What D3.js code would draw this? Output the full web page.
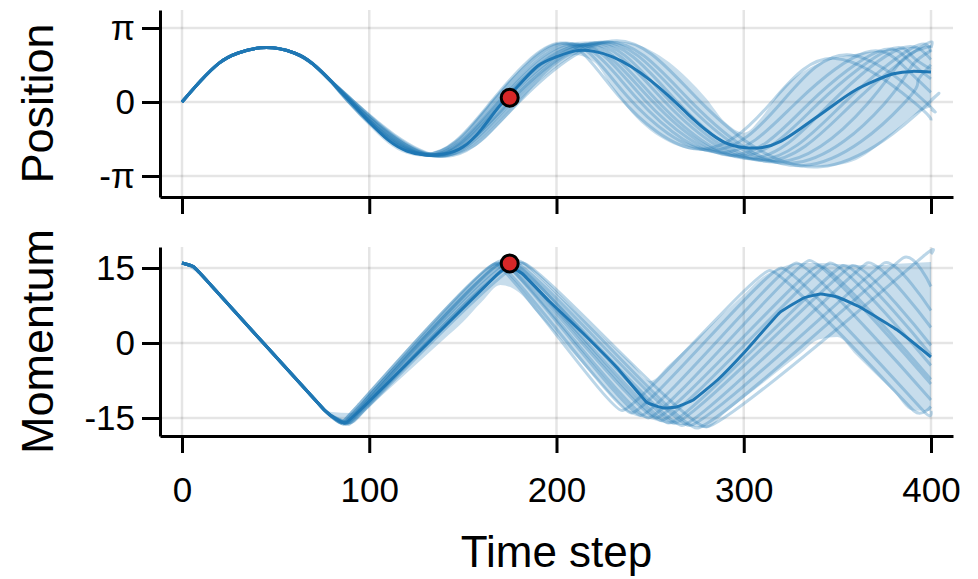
<!DOCTYPE html>
<html>
<head>
<meta charset="utf-8">
<script src="https://cdn.jsdelivr.net/npm/d3@7"></script>
<style>
  body { margin: 0; background: #fff; }
  svg text { font-family: "Liberation Sans", Arial, sans-serif; }
</style>
</head>
<body>
<div id="chart"></div>
<script>
// ---- data ----
var stepTicks = [0, 100, 200, 300, 400];
var posTicks = [-Math.PI, 0, Math.PI];
var posTickLabels = ["-π", "0", "π"];
var momTicks = [-15, 0, 15];
var momTickLabels = ["-15", "0", "15"];

// mean and band are sampled every 10 steps, 0..400
var sampleSteps = d3.range(0, 401, 10);

var posMean = [0, 0.9, 1.66, 2.08, 2.29, 2.29, 2.08, 1.61, 0.85, 0.0, -0.85, -1.61, -2.08, -2.25, -2.21, -1.91,
  -1.15, -0.13, 0.72, 1.53, 1.92, 2.17, 2.15, 1.92, 1.5, 0.93, 0.25, -0.5, -1.2, -1.72, -1.93, -1.93, -1.66,
  -1.15, -0.58, -0.01, 0.52, 0.9, 1.2, 1.3, 1.27];
var posLow = [0, 0.87, 1.62, 2.03, 2.24, 2.23, 2.0, 1.5, 0.72, -0.18, -1.02, -1.76, -2.2, -2.33, -2.32, -2.15,
  -1.7, -0.9, -0.05, 0.85, 1.6, 2.0, 1.7, 0.6, -0.45, -1.2, -1.7, -2.0, -2.1, -2.3, -2.4, -2.5, -2.55, -2.7,
  -2.75, -2.68, -2.46, -1.95, -1.3, -0.6, -0.2];
var posHigh = [0, 0.93, 1.7, 2.13, 2.34, 2.35, 2.16, 1.72, 0.98, 0.18, -0.68, -1.44, -1.95, -2.15, -1.95, -1.4,
  -0.45, 0.5, 1.35, 2.1, 2.5, 2.55, 2.58, 2.58, 2.5, 2.2, 1.7, 1.0, 0.15, -0.85, -1.3, -0.6, 0.5, 1.2, 1.65,
  1.9, 2.05, 2.15, 2.25, 2.33, 2.4];

var momLow = [16, 13.4, 9.3, 5.2, 1.1, -3.0, -7.1, -11.2, -14.9, -16.2, -12.8, -9.4, -6.0, -2.6, 0.8, 4.2,
  8.2, 11.6, 10.1, 5.9, 1.7, -2.5, -6.7, -10.9, -14.2, -15.2, -16.2, -16.5, -17.0, -14.0, -11.0, -8.1, -5.1,
  -2.2, 0.7, 1.2, -2.4, -6.1, -9.7, -13.5, -13.6];
var momHigh = [16, 13.9, 9.8, 5.7, 1.6, -2.5, -6.6, -10.7, -13.8, -14.0, -10.0, -6.0, -2.1, 1.8, 5.7, 9.6,
  13.3, 16.4, 16.4, 13.4, 9.9, 6.4, 2.9, -0.6, -4.1, -7.6, -4.4, -0.9, 2.6, 6.2, 9.7, 13.2, 15.1, 16.0, 16.0,
  15.8, 15.6, 15.5, 15.8, 16.0, 16.2];

// mean momentum as [step, value] knots (corners matter here)
var momMean = [[0, 16.0], [6, 15.3], [12, 13.0], [76, -13.4], [87, -16.0], [98, -12.4], [168, 13.6], [175, 15.2],
  [182, 13.8], [196, 8.4], [214, 2], [232, -4.8], [248, -11.8], [257, -13], [264, -12.8], [273, -11.4],
  [286, -7.4], [300, -2], [319, 6], [332, 9], [341, 9.8], [350, 9.2], [362, 7.2], [382, 2.6], [400, -2.8]];

// single runs: shared start, then per run knots [step, value]
var posStart = [[0, 0], [10, 0.9], [20, 1.66], [30, 2.08], [45, 2.31], [60, 2.08], [70, 1.61], [80, 0.85]];
var posRuns = [
  [[89, 0], [128, -2.2], [165, 0], [202, 2.5], [233, 0.28], [276, -2.0], [314, -0.08], [349, 1.85], [391, -0.02], [400, -0.78]],
  [[89, 0], [128, -2.22], [166, 0], [205, 2.5], [238, 0.22], [282, -2.05], [320, -0.03], [357, 2.0], [397, 0.0], [400, -0.3]],
  [[90, 0], [130, -2.25], [168, 0], [208, 2.45], [243, 0.15], [288, -2.15], [328, -0.03], [365, 2.1], [385, 1.55], [400, 0.41]],
  [[90, 0], [130, -2.24], [169, 0], [211, 2.45], [247, 0.1], [294, -2.25], [335, -0.05], [372, 2.15], [388, 1.77], [400, 0.98]],
  [[90, 0], [131, -2.26], [170, 0], [213, 2.4], [251, 0.05], [298, -2.3], [340, -0.05], [377, 2.2], [390, 1.94], [400, 1.39]],
  [[90, 0], [132, -2.27], [171, 0], [215, 2.45], [254, 0.03], [303, -2.4], [346, -0.08], [383, 2.25], [400, 1.8]],
  [[91, 0], [132, -2.25], [172, 0], [218, 2.45], [258, 0], [308, -2.45], [353, -0.08], [390, 2.3], [400, 2.13]],
  [[91, 0], [134, -2.28], [174, 0], [220, 2.5], [261, 0], [312, -2.5], [358, -0.08], [395, 2.35], [400, 2.31]],
  [[91, 0], [134, -2.25], [175, 0], [223, 2.5], [265, -0.03], [318, -2.55], [366, -0.08], [385, 1.81], [400, 2.38]],
  [[92, 0], [135, -2.3], [176, 0], [225, 2.55], [269, -0.03], [325, -2.6], [375, -0.08], [390, 1.56], [400, 2.18]],
  [[92, 0], [136, -2.28], [178, 0], [228, 2.55], [273, -0.08], [332, -2.7], [385, -0.1], [393, 0.9], [400, 1.58]],
  [[92, 0], [138, -2.3], [180, 0], [232, 2.6], [278, -0.08], [341, -2.75], [398, -0.1], [400, 0.08]]
];

var momStart = [[0, 16], [6, 15.3], [12, 13.0], [76, -13.4]];
var momRuns = [
  [[85, -16], [94, -12.5], [167, 15.8], [235, -13.5], [314, 14.5], [391, -13.6], [400, -12.7]],
  [[85, -16], [94, -12.5], [168, 16], [240, -14], [320, 15], [397, -14], [400, -13.6]],
  [[86, -16.2], [95, -12.7], [170, 16.4], [245, -14.5], [328, 16], [400, -11.4]],
  [[86, -16], [95, -12.6], [171, 16], [249, -15], [335, 16.5], [400, -8.2]],
  [[87, -16], [96, -12.6], [172, 16.2], [253, -15], [340, 15.5], [400, -7.3]],
  [[87, -16.3], [96, -12.9], [173, 16.5], [256, -15.5], [346, 16], [400, -4.5]],
  [[87, -16], [96, -12.7], [174, 16], [260, -16], [353, 15.5], [400, -2.4]],
  [[88, -16], [97, -12.7], [176, 16.2], [263, -16], [358, 15.5], [400, -0.5]],
  [[88, -16.2], [97, -12.9], [177, 15.6], [267, -16.5], [366, 16], [400, 3.1]],
  [[89, -16], [98, -12.8], [178, 16], [271, -16.5], [375, 16], [400, 6.5]],
  [[89, -16.3], [98, -13.1], [180, 16.4], [275, -17], [385, 17], [400, 11.3]],
  [[90, -16], [99, -12.9], [182, 16], [280, -16.8], [398, 18], [400, 17.8]]
];

// the marked state
var markStep = 175, markPos = 0.18, markMom = 15.9;

// ---- layout ----
var width = 978, height = 579;
var left = 160, right = 953;
var blue = "#1f77b4";

var svg = d3.select("#chart")
  .append("svg")
  .attr("width", width)
  .attr("height", height);

var x = d3.scaleLinear().domain([-11.75, 411.75]).range([left, right]);
var yPos = d3.scaleLinear().domain([-4.033, 3.906]).range([197, 10]);
var yMom = d3.scaleLinear().domain([-18.6, 19.2]).range([436, 247]);

function drawPanel(y, ticks, tickLabels, mean, meanCurve, low, high, runs, runCurve, markVal, label, showLabels) {
  var top = y.range()[1], bottom = y.range()[0];
  var g = svg.append("g");

  // grid
  g.selectAll(".vgrid").data(stepTicks).enter().append("line")
    .attr("x1", d => x(d)).attr("x2", d => x(d))
    .attr("y1", top).attr("y2", bottom)
    .attr("stroke", "#000").attr("stroke-opacity", 0.1).attr("stroke-width", 2.5);
  g.selectAll(".hgrid").data(ticks).enter().append("line")
    .attr("x1", left).attr("x2", right)
    .attr("y1", d => y(d)).attr("y2", d => y(d))
    .attr("stroke", "#000").attr("stroke-opacity", 0.1).attr("stroke-width", 2.5);

  // band
  var area = d3.area()
    .x((d, i) => x(sampleSteps[i]))
    .y0((d, i) => y(low[i]))
    .y1((d, i) => y(high[i]))
    .curve(d3.curveMonotoneX);
  g.append("path").datum(low).attr("d", area)
    .attr("fill", blue).attr("fill-opacity", 0.25);

  // single runs
  var line = d3.line().x(d => x(d[0])).y(d => y(d[1])).curve(runCurve);
  g.selectAll(".run").data(runs).enter().append("path")
    .attr("d", line)
    .attr("fill", "none")
    .attr("stroke", blue)
    .attr("stroke-opacity", 0.3)
    .attr("stroke-width", 3)
    .attr("stroke-linejoin", "round");

  // mean
  g.append("path").datum(mean)
    .attr("d", d3.line().x(d => x(d[0])).y(d => y(d[1])).curve(meanCurve))
    .attr("fill", "none")
    .attr("stroke", blue)
    .attr("stroke-width", 3);

  // marker
  g.append("circle")
    .attr("cx", x(markStep)).attr("cy", y(markVal))
    .attr("r", 8.5)
    .attr("fill", "#d62728")
    .attr("stroke", "#000")
    .attr("stroke-width", 3);

  // axes
  var ya = g.append("g")
    .attr("transform", "translate(" + left + ",0)")
    .call(d3.axisLeft(y).tickValues(ticks).tickFormat((d, i) => tickLabels[i])
      .tickSize(18).tickPadding(7).tickSizeOuter(0));
  var xa = g.append("g")
    .attr("transform", "translate(0," + bottom + ")")
    .call(d3.axisBottom(x).tickValues(stepTicks).tickFormat(showLabels ? d3.format("d") : "")
      .tickSize(17).tickPadding(24).tickSizeOuter(0));
  [ya, xa].forEach(function(a) {
    a.selectAll("path, line").attr("stroke", "#000").attr("stroke-width", 3);
    a.selectAll("text").attr("fill", "#000").style("font-size", "35px")
      .style("font-family", '"Liberation Sans", Arial, sans-serif');
  });

  // y label
  g.append("text")
    .attr("transform", "translate(53," + ((top + bottom) / 2) + ") rotate(-90)")
    .attr("text-anchor", "middle")
    .style("font-size", "45px")
    .text(label);
}

var posMeanPts = posMean.map((v, i) => [sampleSteps[i], v]);
var posAll = posRuns.map(r => posStart.concat(r));
var momAll = momRuns.map(r => momStart.concat(r));

drawPanel(yPos, posTicks, posTickLabels, posMeanPts, d3.curveNatural, posLow, posHigh,
  posAll, d3.curveNatural, markPos, "Position", false);
drawPanel(yMom, momTicks, momTickLabels, momMean, d3.curveCardinal.tension(0.7), momLow, momHigh,
  momAll, d3.curveCardinal.tension(0.7), markMom, "Momentum", true);

// x label
svg.append("text")
  .attr("x", (x(0) + x(400)) / 2)
  .attr("y", 567)
  .attr("text-anchor", "middle")
  .style("font-size", "44px")
  .text("Time step");
</script>
</body>
</html>
